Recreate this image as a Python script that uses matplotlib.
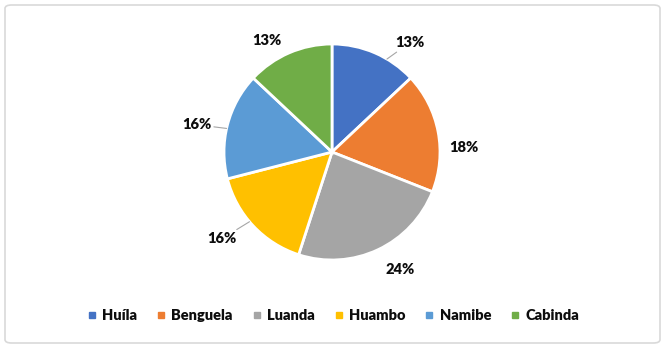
import numpy as np
import matplotlib.pyplot as plt
from matplotlib.patches import FancyBboxPatch
from matplotlib.lines import Line2D

# data
regions = ['Huíla', 'Benguela', 'Luanda', 'Huambo', 'Namibe', 'Cabinda']
shares = [13, 18, 24, 16, 16, 13]
colors = ['#4472C4', '#ED7D31', '#A5A5A5', '#FFC000', '#5B9BD5', '#70AD47']

# label placement tweaks (angle shift in degrees, radius in pie units)
lab_shift = [-12, -9, 5, -5, 3, 7]
lab_rad = [1.24, 1.22, 1.26, 1.30, 1.28, 1.20]
has_leader = [True, False, False, True, True, False]

plt.rcParams['font.family'] = ['Lato', 'DejaVu Sans']
txt_col = '#0d0d0d'

W, H = 665, 348
fig = plt.figure(figsize=(W / 100, H / 100), dpi=100)

# outer rounded frame
frame = FancyBboxPatch((5 / W, 5 / H), 655 / W, 338 / H,
                       boxstyle='round,pad=0,rounding_size=0.01',
                       transform=fig.transFigure, facecolor='none',
                       edgecolor='#D9D9D9', linewidth=1.2, zorder=-1)
fig.patches.append(frame)

cx, cy, r = 332, 196, 108
ax = fig.add_axes([(cx - r) / W, (cy - r) / H, 2 * r / W, 2 * r / H])
wedges, _ = ax.pie(shares, colors=colors, startangle=90, counterclock=False,
                   radius=1, wedgeprops=dict(edgecolor='white', linewidth=2))
ax.set_xlim(-1, 1)
ax.set_ylim(-1, 1)
ax.set_aspect('auto')
ax.axis('off')

for i, w in enumerate(wedges):
    mid = (w.theta1 + w.theta2) / 2
    a = np.deg2rad(mid + lab_shift[i])
    tx, ty = lab_rad[i] * np.cos(a), lab_rad[i] * np.sin(a)
    txt = '%d%%' % shares[i]
    if has_leader[i]:
        ea = np.deg2rad(mid + lab_shift[i] * 0.6)
        ex, ey = np.cos(ea) * 1.0, np.sin(ea) * 1.0
        ax.annotate(txt, xy=(ex, ey), xytext=(tx, ty), ha='center', va='center',
                    fontsize=10.5, fontweight='heavy', color=txt_col,
                    arrowprops=dict(arrowstyle='-', color='#A6A6A6', lw=0.8,
                                    shrinkA=12, shrinkB=0))
    else:
        ax.text(tx, ty, txt, ha='center', va='center', fontsize=10.5,
                fontweight='heavy', color=txt_col)

handles = [Line2D([], [], marker='s', linestyle='', markersize=5,
                  markerfacecolor=c, markeredgecolor=c) for c in colors]
fig.legend(handles, regions, loc='center', bbox_to_anchor=(0.5, 1 - 316 / H),
           ncol=6, frameon=False, handletextpad=0.3, columnspacing=1.25,
           handlelength=0.8, prop=dict(size=10.5, weight='heavy'),
           labelcolor=txt_col)

fig.savefig('out.png', dpi=100)
